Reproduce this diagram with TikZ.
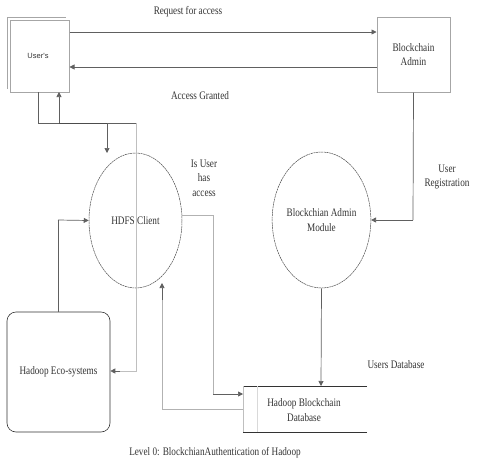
\documentclass[tikz,border=0pt]{standalone}
\usepackage{fontspec}
\setmainfont[FakeStretch=0.8]{Liberation Serif}
\newfontfamily\usersfont{Liberation Sans}
\usetikzlibrary{arrows.meta,shapes.geometric}
\begin{document}
\begin{tikzpicture}[x=1pt,y=-1pt,
  conn/.style={draw=gray!75!black,line width=0.7pt},
  arr/.style={conn,-{Triangle[length=5pt,width=5pt]}},
  boxn/.style={draw=gray!70,line width=1pt,fill=white,inner sep=0pt},
  ell/.style={ellipse,draw=gray!60!black,dash pattern=on 2pt off 0.6pt,line width=0.5pt,inner sep=0pt},
  lbl/.style={font=\fontsize{11.5}{14.5}\selectfont,align=center,text=black!80},
]
\useasboundingbox (0,0) rectangle (479,466);
% Users
\draw[gray!70,line width=1pt] (7,89) -- (7,17) -- (66,17);
\node[boxn,minimum width=59pt,minimum height=72pt] (users) at (39.5,56) {};
\node[font=\usersfont\fontsize{7.5}{9}\selectfont,text=black!80] at (38,56) {User's};
% Blockchain Admin
\node[boxn,minimum width=73pt,minimum height=75pt,lbl] (admin) at (413.5,54.5) {Blockchain\\Admin};
% ellipses
\node[ell,minimum width=93pt,minimum height=135pt,lbl] (hdfs) at (135.5,220.5) {HDFS Client};
\node[ell,minimum width=93pt,minimum height=136pt,lbl] (mod) at (321.5,220) {Blockchian Admin\\Module};
% Eco-systems
\node[draw=black!80,line width=0.6pt,rounded corners=9pt,minimum width=103pt,minimum height=120pt,lbl] (eco) at (58.5,372) {Hadoop Eco-systems};
% Database
\coordinate (dbtl) at (243,386);
\coordinate (dbbl) at (243,432);
\draw[black!80,line width=0.7pt] (367,386) -- (dbtl);
\draw[black!80,line width=0.7pt] (367,432) -- (dbbl);
\draw[gray!50,line width=0.7pt] (dbtl) -- (dbbl);
\draw[gray!30,line width=0.7pt] (257,386) -- (257,432);
\node[lbl] (db) at (304,410) {Hadoop Blockchain\\Database};
% connectors
\draw[arr] (users.east |- 0,32) -- (admin.west |- 0,32);
\draw[arr] (admin.west |- 0,67) -- (users.east |- 0,67);
\draw[conn] (admin.south) -- (413,220);
\draw[arr] (413,220) -- (mod.east);
\draw[arr] (mod.south) -- (321,386);
\draw[conn] (38,92) -- (38,123) -- (136,123);
\draw[conn,gray!50] (136,123) -- (136,371) -- (118,371);
\draw[arr] (120,371) -- (eco.east |- 0,371);
\draw[conn,gray!60!black,line width=0.9pt] (59,123) -- (107,123);
\draw[arr] (59,123) -- (59,92);
\coordinate (hdfsin) at (107,153);
\draw[arr] (107,123) -- (hdfsin);
\draw[conn] (eco.north -| 58,0) -- (58,220);
\draw[arr] (58,220) -- (hdfs.west);
\draw[conn,gray!60] (hdfs.east |- 0,215) -- (213,215) -- (213,394);
\draw[arr] (213,394) -- (243,394);
\draw[conn,gray!60] (243,409) -- (162,409) -- (162,300);
\draw[arr] (162,300) -- (162,283);
% labels
\node[lbl] at (188,12) {Request for access};
\node[lbl] at (200,96) {Access Granted};
\node[lbl] at (447,177) {User\\Registration};
\node[lbl,align=center] at (204,178) {Is User\\has\\access};
\node[lbl] at (396,365) {Users Database};
\node[lbl] at (215,453) {Level 0: BlockchianAuthentication of Hadoop};
\end{tikzpicture}
\end{document}
